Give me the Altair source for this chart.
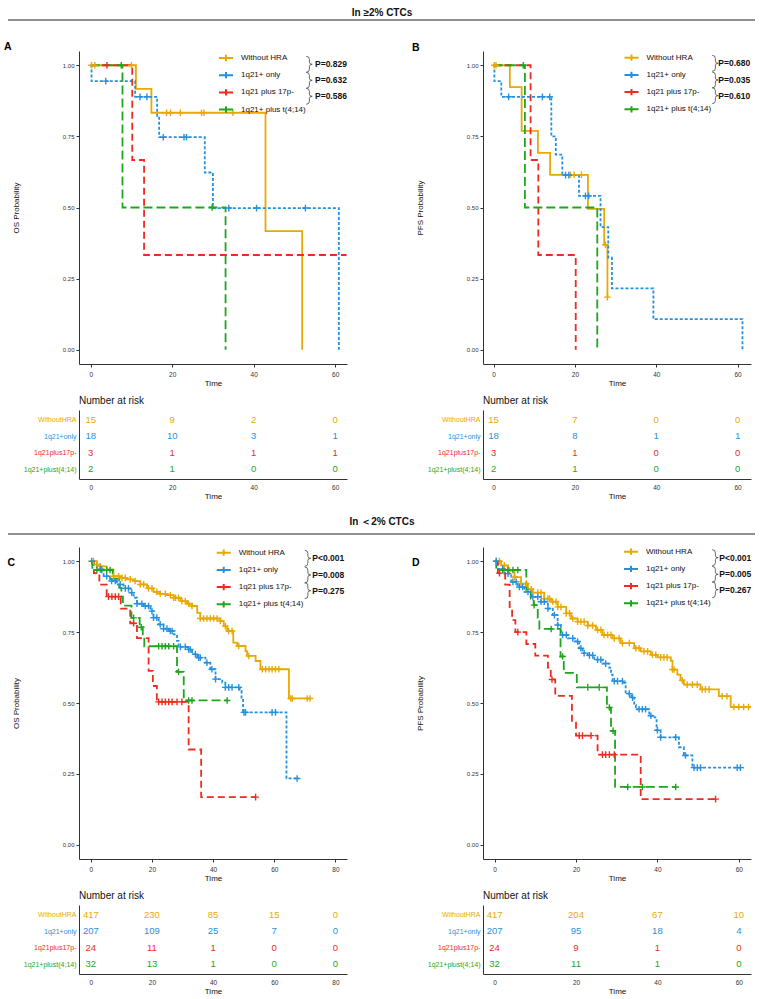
import altair as alt
import pandas as pd

FONT = "Liberation Sans"

# ---------------- data ----------------
groups = ["Without HRA", "1q21+ only", "1q21 plus 17p-", "1q21+ plus t(4;14)"]
risk_labels = ["WithoutHRA", "1q21+only", "1q21plus17p-", "1q21+plust(4;14)"]
section_titles = ["In ≥2% CTCs", "In ＜2% CTCs"]
panel_letters = ["A", "B", "C", "D"]
y_titles = ["OS Probability", "PFS Probability", "OS Probability", "PFS Probability"]
p_A = ["P=0.829", "P=0.632", "P=0.586"]
p_B = ["P=0.680", "P=0.035", "P=0.610"]
p_C = ["P<0.001", "P=0.008", "P=0.275"]
p_D = ["P<0.001", "P=0.005", "P=0.267"]

# Panel A (OS, >=2% CTCs)
A_hra_t = [0, 11.1, 14.9, 42.9, 51.9]
A_hra_s = [1.0, 0.917, 0.833, 0.417, 0.0]
A_hra_c = [0.2, 1.0, 10.0, 18.6, 19.6, 22.0, 27.2, 27.8, 34.9]
A_1q_t = [0, 0.2, 10.9, 16.3, 16.8, 28.0, 30.0, 60.9]
A_1q_s = [1.0, 0.944, 0.889, 0.822, 0.747, 0.623, 0.498, 0.0]
A_1q_c = [3.7, 12.1, 13.8, 17.8, 22.9, 23.5, 33.9, 40.7, 52.7]
A_17p_t = [0, 10.2, 13.1, 62.8]
A_17p_s = [1.0, 0.667, 0.333, 0.333]
A_17p_c = [4.0]
A_t414_t = [0, 7.8, 33.1]
A_t414_s = [1.0, 0.5, 0.0]
A_t414_c = [7.5, 29.8]

# Panel B (PFS, >=2% CTCs)
B_hra_t = [0, 4.0, 6.9, 10.9, 13.9, 23.2, 27.2, 28.0]
B_hra_s = [1.0, 0.923, 0.769, 0.692, 0.615, 0.495, 0.369, 0.185]
B_hra_c = [0.2, 0.6, 18.9, 19.8, 21.6, 27.5, 28.0]
B_1q_t = [0, 0.2, 1.9, 14.2, 15.3, 16.9, 21.0, 26.3, 28.2, 29.1, 39.3, 61.2]
B_1q_s = [1.0, 0.944, 0.889, 0.750, 0.686, 0.614, 0.541, 0.431, 0.324, 0.216, 0.108, 0.0]
B_1q_c = [3.7, 12.0, 13.8, 17.7, 18.5, 22.6, 23.4]
B_17p_t = [0, 9.1, 11.0, 20.2]
B_17p_s = [1.0, 0.667, 0.333, 0.0]
B_17p_c = []
B_t414_t = [0, 7.7, 25.5]
B_t414_s = [1.0, 0.5, 0.0]
B_t414_c = [7.3]

# Panel C (OS, <2% CTCs)
C_hra_t = [0, 2.0, 3.1, 5.2, 7.4, 9.6, 11.8, 14.0, 16.2, 18.4, 20.5, 22.7, 24.9, 27.1, 29.3,
           31.5, 33.1, 34.8, 35.8, 42.4, 43.5, 44.6, 46.6, 47.9, 50.6, 51.1, 53.9, 55.5, 64.8, 71.9]
C_hra_s = [1.0, 0.988, 0.982, 0.971, 0.947, 0.941, 0.936, 0.930, 0.918, 0.904, 0.892, 0.885, 0.880, 0.871, 0.859,
           0.850, 0.842, 0.818, 0.798, 0.789, 0.771, 0.754, 0.713, 0.701, 0.683, 0.666, 0.648, 0.619, 0.516, 0.516]
C_hra_c = [0.9, 2.0, 3.1, 7.4, 9.1, 10.2, 11.3, 12.9, 14.5, 16.2, 17.3, 18.9, 20.0, 21.6, 22.7, 24.4, 26.0,
           27.1, 27.7, 28.7, 29.8, 30.9, 32.0, 33.1, 35.8, 36.9, 38.0, 39.1, 40.2, 41.3, 42.4, 44.0, 45.1,
           46.2, 48.4, 51.7, 56.1, 57.2, 58.3, 59.3, 60.4, 61.5, 65.4, 65.9, 70.8, 71.7]
C_1q_t = [0, 0.9, 2.0, 4.2, 6.3, 8.5, 10.7, 12.9, 14.0, 15.1, 17.3, 19.5, 20.5, 22.2, 23.8, 25.5, 27.1,
          28.2, 28.7, 31.5, 33.1, 34.8, 37.5, 39.1, 40.8, 43.0, 44.0, 48.7, 49.3, 49.8, 64.0, 68.1]
C_1q_s = [1.0, 0.988, 0.971, 0.947, 0.930, 0.918, 0.904, 0.889, 0.871, 0.850, 0.842, 0.824, 0.801, 0.777,
          0.762, 0.754, 0.742, 0.719, 0.698, 0.689, 0.672, 0.660, 0.642, 0.619, 0.584, 0.572, 0.555, 0.543,
          0.511, 0.467, 0.234, 0.234]
C_1q_c = [0.3, 3.1, 5.2, 6.8, 8.0, 9.6, 11.3, 12.3, 13.4, 15.1, 16.7, 17.8, 18.9, 20.0, 20.5, 21.6, 22.7,
          23.8, 24.9, 26.0, 26.6, 29.3, 30.9, 32.0, 32.5, 34.2, 35.3, 35.8, 38.0, 39.6, 40.8, 44.0, 45.1,
          46.2, 48.4, 50.1, 50.6, 59.3, 60.4, 67.5]
C_17p_t = [0, 1.0, 2.8, 5.2, 9.8, 12.9, 15.1, 18.9, 20.3, 21.6, 32.0, 36.1, 53.9]
C_17p_s = [1.0, 0.958, 0.917, 0.875, 0.833, 0.781, 0.729, 0.613, 0.560, 0.504, 0.336, 0.168, 0.168]
C_17p_c = [5.8, 6.9, 8.0, 9.1, 14.0, 22.2, 23.3, 24.4, 25.5, 26.6, 28.2, 29.8, 53.9]
C_t414_t = [0, 0.5, 7.2, 9.3, 10.0, 10.5, 13.3, 16.0, 17.0, 17.5, 28.2, 30.4, 44.6]
C_t414_s = [1.0, 0.969, 0.938, 0.906, 0.875, 0.843, 0.800, 0.767, 0.733, 0.700, 0.610, 0.509, 0.509]
C_t414_c = [2.0, 3.6, 5.2, 6.3, 14.0, 16.5, 22.2, 23.3, 24.4, 25.5, 27.1, 28.7, 32.0, 33.1, 44.6]

# Panel D (PFS, <2% CTCs)
D_hra_t = [0, 1.6, 3.3, 4.9, 6.5, 8.2, 9.4, 12.2, 13.9, 15.5, 17.6, 18.8, 20.4, 22.9, 24.9, 26.5, 29.0,
           31.0, 34.3, 35.9, 38.4, 40.0, 43.3, 43.7, 44.9, 45.7, 46.5, 50.6, 55.1, 58.0, 62.9]
D_hra_s = [1.0, 0.985, 0.967, 0.944, 0.921, 0.901, 0.889, 0.868, 0.857, 0.839, 0.816, 0.798, 0.787, 0.773,
           0.758, 0.740, 0.728, 0.711, 0.693, 0.682, 0.670, 0.661, 0.649, 0.618, 0.600, 0.580, 0.565, 0.548,
           0.524, 0.486, 0.486]
D_hra_c = [0.4, 1.2, 2.4, 3.7, 4.9, 6.5, 7.8, 9.0, 10.6, 11.4, 12.2, 13.1, 13.5, 14.3, 15.1, 15.5, 16.3,
           17.6, 18.4, 19.2, 20.4, 21.2, 22.0, 22.9, 24.1, 25.3, 26.1, 26.9, 27.8, 28.6, 29.4, 30.6, 31.4,
           33.1, 34.7, 35.5, 36.7, 37.6, 38.8, 39.6, 40.8, 41.6, 42.4, 43.7, 44.1, 46.1, 47.3, 48.6, 49.8,
           51.0, 51.8, 52.7, 55.9, 57.1, 58.8, 60.0, 61.2, 62.4]
D_1q_t = [0, 0.8, 2.4, 4.1, 5.7, 7.3, 9.0, 11.4, 13.1, 14.3, 15.5, 16.3, 18.0, 19.6, 20.8, 21.6, 22.9,
          24.5, 26.5, 28.2, 28.6, 29.0, 31.8, 32.2, 33.6, 34.3, 34.7, 38.0, 39.3, 39.8, 40.8, 45.3, 46.5,
          48.6, 61.2]
D_1q_s = [1.0, 0.973, 0.956, 0.927, 0.909, 0.892, 0.874, 0.857, 0.833, 0.810, 0.775, 0.740, 0.728, 0.717,
          0.693, 0.676, 0.668, 0.653, 0.639, 0.624, 0.600, 0.577, 0.571, 0.533, 0.519, 0.493, 0.478, 0.455,
          0.449, 0.404, 0.379, 0.344, 0.315, 0.272, 0.272]
D_1q_c = [0.4, 2.0, 3.3, 4.5, 5.3, 6.1, 6.9, 8.2, 9.4, 10.6, 11.4, 12.2, 13.1, 14.7, 15.5, 16.7, 17.6,
          19.2, 20.4, 21.2, 22.0, 23.3, 24.1, 25.3, 26.1, 27.3, 29.4, 30.2, 31.4, 33.1, 33.9, 35.5, 36.3,
          37.1, 38.4, 40.0, 40.8, 44.5, 46.9, 49.0, 49.8, 50.6, 59.6, 60.4]
D_17p_t = [0, 0.8, 2.6, 3.7, 4.3, 5.1, 7.8, 10.0, 13.1, 13.8, 14.9, 19.0, 20.0, 25.3, 35.9, 54.3]
D_17p_s = [1.0, 0.958, 0.917, 0.833, 0.792, 0.750, 0.708, 0.667, 0.625, 0.583, 0.525, 0.431, 0.385,
           0.318, 0.161, 0.161]
D_17p_c = [1.2, 5.7, 14.1, 20.8, 21.6, 23.7, 26.5, 27.3, 28.2, 29.4, 54.3]
D_t414_t = [0, 0.4, 7.8, 8.9, 9.6, 10.6, 11.0, 16.2, 17.0, 20.2, 27.6, 28.6, 29.6, 44.5]
D_t414_s = [1.0, 0.969, 0.897, 0.868, 0.845, 0.800, 0.761, 0.664, 0.606, 0.555, 0.484, 0.402, 0.204, 0.204]
D_t414_c = [2.0, 3.3, 4.5, 5.7, 9.7, 13.9, 16.7, 22.9, 25.7, 28.2, 29.1, 32.7, 36.3, 44.5]

# Numbers at risk
risk_times_60 = [0, 20, 40, 60]
risk_times_80 = [0, 20, 40, 60, 80]
risk_A = [[15, 9, 2, 0], [18, 10, 3, 1], [3, 1, 1, 1], [2, 1, 0, 0]]
risk_B = [[15, 7, 0, 0], [18, 8, 1, 1], [3, 1, 0, 0], [2, 1, 0, 0]]
risk_C = [[417, 230, 85, 15, 0], [207, 109, 25, 7, 0], [24, 11, 1, 0, 0], [32, 13, 1, 0, 0]]
risk_D = [[417, 204, 67, 10], [207, 95, 18, 4], [24, 9, 1, 0], [32, 11, 1, 0]]

# ---------------- styles ----------------
colors = ["#E8A905", "#2591DE", "#EE2B1E", "#1EA61E"]
dashes = [[1, 0], [3, 2], [7, 4], [9, 4]]
PLUS = "M-1,0L1,0M0,-1L0,1"
LEG_SYM = "M-1,0L1,0M0,-0.45L0,0.45"
BRACE = "M-0.35,-1Q0.05,-1,0.05,-0.6L0.05,-0.25Q0.05,0,0.4,0Q0.05,0,0.05,0.25L0.05,0.6Q0.05,1,-0.35,1"
PW = 268


def build_frames(curves, censors):
    rows, crows = [], []
    for g, (ts, ss), cs in zip(groups, curves, censors):
        for i, (t, s) in enumerate(zip(ts, ss)):
            rows.append({"group": g, "time": t, "surv": s, "idx": i})
        for c in cs:
            y = ss[0]
            for t, s in zip(ts, ss):
                if t <= c:
                    y = s
            crows.append({"group": g, "time": c, "surv": y})
    return pd.DataFrame(rows), pd.DataFrame(crows, columns=["group", "time", "surv"])


def km_chart(curves, censors, xdom, xticks, ytitle, letter, lay, pvals, height):
    ldf, cdf = build_frames(curves, censors)
    xs = alt.Scale(domain=xdom, nice=False, zero=False)
    ys = alt.Scale(domain=[-0.05, 1.05], nice=False, zero=False)
    xax = alt.Axis(values=xticks, title="Time", grid=False, labelFontSize=6.5, labelColor="#333",
                   labelFont=FONT, tickSize=3, tickColor="#333", domainColor="#333", domainWidth=1,
                   labelPadding=4, titleFontSize=8, titleFontWeight="normal", titleColor="#111",
                   titleFont=FONT, titlePadding=2)
    yax = alt.Axis(values=[0, 0.25, 0.5, 0.75, 1.0], format=".2f", title=ytitle, grid=False,
                   labelFontSize=6, labelColor="#333", labelFont=FONT, tickSize=3, tickColor="#333",
                   domainColor="#333", domainWidth=1, labelPadding=2, titleFontSize=8,
                   titleFontWeight="normal", titleColor="#111", titleFont=FONT, titleX=-63,
                   titleY=height / 2, titleBaseline="middle", titleAlign="center")
    col = alt.Scale(domain=groups, range=colors)
    layers = []
    for g, c, d in zip(groups, colors, dashes):
        sub = ldf[ldf["group"] == g]
        layers.append(alt.Chart(sub).mark_line(
            interpolate="step-after", strokeWidth=1.8, clip=True, color=c, strokeDash=d
        ).encode(
            x=alt.X("time:Q", scale=xs, axis=xax),
            y=alt.Y("surv:Q", scale=ys, axis=yax),
            order="idx:Q",
        ))
    legend = alt.Legend(
        title=None, orient="none", legendX=lay["lx"], legendY=lay["ly"], direction="vertical",
        symbolType=LEG_SYM, symbolSize=196, symbolStrokeWidth=2, symbolOpacity=1,
        labelFontSize=8, labelFont=FONT, labelColor="#111", labelOffset=7,
        rowPadding=1.2, padding=0, labelLimit=200)
    layers.append(alt.Chart(cdf).mark_point(shape=PLUS, filled=False, size=44, strokeWidth=1.4,
                                            opacity=1, clip=True).encode(
        x=alt.X("time:Q", scale=xs, axis=xax),
        y=alt.Y("surv:Q", scale=ys, axis=yax),
        color=alt.Color("group:N", scale=col, legend=legend),
    ))
    layers.append(alt.Chart(pd.DataFrame({"t": [letter]})).mark_text(
        align="left", baseline="middle", fontSize=10.5, fontWeight="bold", font=FONT, color="#000"
    ).encode(text="t:N", x=alt.value(lay["ax"]), y=alt.value(lay["ay"])))
    for i, p in enumerate(pvals):
        layers.append(alt.Chart(pd.DataFrame({"t": [p]})).mark_text(
            align="left", baseline="middle", fontSize=8.5, fontWeight="bold", font=FONT, color="#111"
        ).encode(text="t:N", x=alt.value(lay["px"]), y=alt.value(lay["py"][i])))
        layers.append(alt.Chart(pd.DataFrame({"t": [p]})).mark_point(
            shape=BRACE, filled=False, size=256, strokeWidth=0.8, color="#444", opacity=1
        ).encode(x=alt.value(lay["bx"]), y=alt.value(lay["py"][i])))
    return alt.layer(*layers).properties(width=PW, height=height)


def risk_chart(counts, times, xdom):
    rows = [{"lab": lab, "time": t, "n": n}
            for lab, ns in zip(risk_labels, counts) for t, n in zip(times, ns)]
    df = pd.DataFrame(rows)
    expr = "'" + colors[3] + "'"
    for lab, c in reversed(list(zip(risk_labels[:3], colors[:3]))):
        expr = f"datum.value == '{lab}' ? '{c}' : " + expr
    return alt.Chart(df).mark_text(fontSize=9.5, font=FONT, baseline="middle", align="center").encode(
        x=alt.X("time:Q", scale=alt.Scale(domain=xdom, nice=False, zero=False),
                axis=alt.Axis(values=times, title="Time", grid=False, ticks=False, labelFontSize=6.5,
                              labelColor="#333", labelFont=FONT, domainColor="#333", domainWidth=1,
                              labelPadding=5, titleFontSize=8, titleFontWeight="normal",
                              titleColor="#111", titleFont=FONT, titlePadding=2)),
        y=alt.Y("lab:N", scale=alt.Scale(type="point", domain=risk_labels, padding=0.59),
                axis=alt.Axis(title=None, ticks=False, grid=False, labelFontSize=7, labelFont=FONT,
                              labelColor=alt.ExprRef(expr), labelPadding=3, domainColor="#333",
                              domainWidth=1)),
        text="n:Q",
        color=alt.Color("lab:N", scale=alt.Scale(domain=risk_labels, range=colors), legend=None),
    ).properties(width=PW, height=69,
                 title=alt.TitleParams("Number at risk", anchor="start", frame="group", fontSize=10,
                                       fontWeight="normal", font=FONT, color="#111", offset=4))


def title_chart(text, ty):
    df = pd.DataFrame({"t": [text]})
    txt = alt.Chart(df).mark_text(fontSize=10, fontWeight="bold", font=FONT, align="center",
                                  baseline="middle", color="#111").encode(
        text="t:N", x=alt.value(303), y=alt.value(ty))
    rule = alt.Chart(df).mark_rule(strokeWidth=1.2, color="#222").encode(
        x=alt.value(-71), x2=alt.value(676), y=alt.value(20))
    return alt.layer(rule, txt).properties(width=PW, height=20)


def spacer(h):
    return alt.Chart(pd.DataFrame({"v": [0]})).mark_point(opacity=0).properties(width=PW, height=h)


lay_A = {"lx": 139, "ly": -1, "ax": -75, "ay": -4, "px": 236, "py": [13.3, 29.3, 45.3], "bx": 230}
lay_B = {"lx": 140.5, "ly": -1.3, "ax": -71, "ay": -2.7, "px": 235.3, "py": [12.3, 29.0, 44.7], "bx": 232}
lay_C = {"lx": 136.7, "ly": -2.3, "ax": -71.5, "ay": 15.7, "px": 233.3, "py": [11.3, 28.0, 43.7], "bx": 228.5}
lay_D = {"lx": 140, "ly": -3.3, "ax": -71, "ay": 15.7, "px": 236.3, "py": [10.7, 27.3, 42.7], "bx": 232}

dom_A = [-2.87, 62.9]
dom_B = [-2.6, 63.3]
dom_C = [-3.86, 83.8]
dom_D = [-2.85, 63.0]

km_A = km_chart([(A_hra_t, A_hra_s), (A_1q_t, A_1q_s), (A_17p_t, A_17p_s), (A_t414_t, A_t414_s)],
                [A_hra_c, A_1q_c, A_17p_c, A_t414_c], dom_A, risk_times_60, y_titles[0],
                panel_letters[0], lay_A, p_A, 313)
km_B = km_chart([(B_hra_t, B_hra_s), (B_1q_t, B_1q_s), (B_17p_t, B_17p_s), (B_t414_t, B_t414_s)],
                [B_hra_c, B_1q_c, B_17p_c, B_t414_c], dom_B, risk_times_60, y_titles[1],
                panel_letters[1], lay_B, p_B, 313)
km_C = km_chart([(C_hra_t, C_hra_s), (C_1q_t, C_1q_s), (C_17p_t, C_17p_s), (C_t414_t, C_t414_s)],
                [C_hra_c, C_1q_c, C_17p_c, C_t414_c], dom_C, risk_times_80, y_titles[2],
                panel_letters[2], lay_C, p_C, 312)
km_D = km_chart([(D_hra_t, D_hra_s), (D_1q_t, D_1q_s), (D_17p_t, D_17p_s), (D_t414_t, D_t414_s)],
                [D_hra_c, D_1q_c, D_17p_c, D_t414_c], dom_D, risk_times_60, y_titles[3],
                panel_letters[3], lay_D, p_D, 312)

r_A = risk_chart(risk_A, risk_times_60, dom_A)
r_B = risk_chart(risk_B, risk_times_60, dom_B)
r_C = risk_chart(risk_C, risk_times_80, dom_C)
r_D = risk_chart(risk_D, risk_times_60, dom_D)

cells = [
    title_chart(section_titles[0], 13), spacer(20),
    spacer(31), spacer(31),
    km_A, km_B,
    spacer(46), spacer(46),
    r_A, r_B,
    spacer(35), spacer(35),
    title_chart(section_titles[1], 7.7), spacer(20),
    spacer(13), spacer(13),
    km_C, km_D,
    spacer(46), spacer(46),
    r_C, r_D,
]

chart = alt.concat(*cells, columns=2, spacing={"row": 0, "column": 136}, bounds="flush", align="each")
chart = chart.resolve_scale(x="independent", y="independent", color="independent"
                            ).resolve_legend(color="independent")
chart = chart.properties(padding={"left": 4, "top": 0, "right": 4, "bottom": 2}, background="white")
chart = chart.configure_view(stroke=None)

chart.save("out.html", embed_options={"renderer": "svg", "actions": False})
